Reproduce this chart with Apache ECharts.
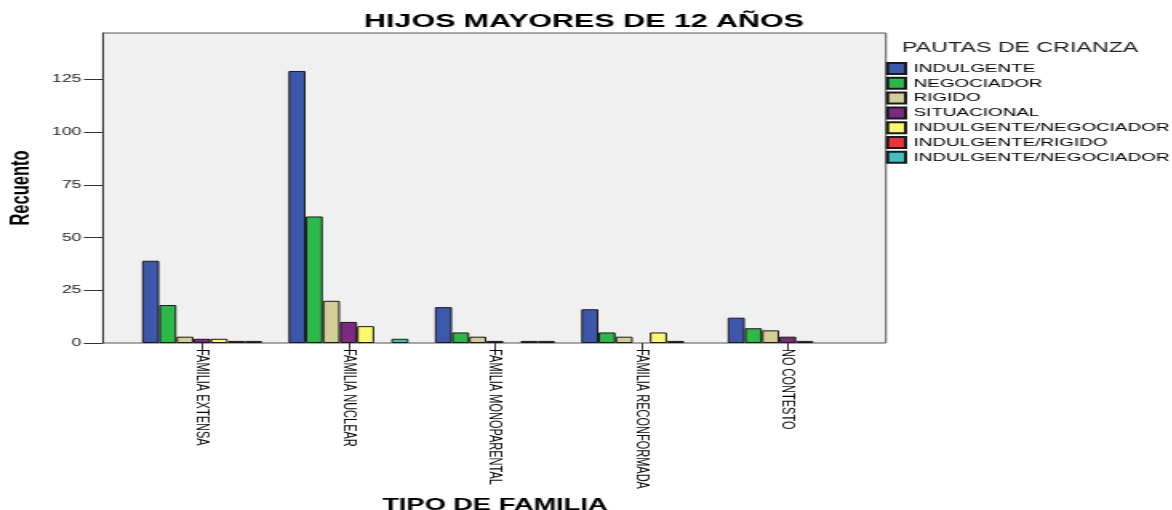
<!DOCTYPE html>
<html>
<head>
<meta charset="utf-8">
<script src="https://cdn.jsdelivr.net/npm/echarts@6/dist/echarts.min.js"></script>
<style>
html, body { margin: 0; padding: 0; background: #fff; overflow: hidden; }
/* el grafico original esta estirado en horizontal, se dibuja angosto y se escala */
#main { width: 732.5px; height: 510px; transform: scaleX(1.6); transform-origin: 0 0; }
</style>
</head>
<body>
<div id="main"></div>
<script>
// datos
const categorias = ['FAMILIA EXTENSA', 'FAMILIA NUCLEAR', 'FAMILIA MONOPARENTAL', 'FAMILIA RECONFORMADA', 'NO CONTESTO'];
const pautas = ['INDULGENTE', 'NEGOCIADOR', 'RIGIDO', 'SITUACIONAL', 'INDULGENTE/NEGOCIADOR', 'INDULGENTE/RIGIDO', 'INDULGENTE/NEGOCIADOR '];
const indulgente = [39, 129, 17, 16, 12];
const negociador = [18, 60, 5, 5, 7];
const rigido = [3, 20, 3, 3, 6];
const situacional = [2, 10, 1, 0, 3];
const indulgenteNegociador = [2, 8, 0, 5, 1];
const indulgenteRigido = [1, 0, 1, 1, 0];
const indulgenteNegociador2 = [1, 2, 1, 0, 0];
const yTicks = [0, 25, 50, 75, 100, 125];

const valores = [indulgente, negociador, rigido, situacional, indulgenteNegociador, indulgenteRigido, indulgenteNegociador2];
const colores = ['#3d58ab', '#2fb84a', '#d3cd96', '#7c2a7f', '#fbf872', '#e9323a', '#47bfc0'];

const S = 1.6; // factor de estiramiento horizontal
const fuente = 'Liberation Sans, Arial, sans-serif';

let myChart = echarts.init(document.getElementById('main'));

let series = [];
for (var i = 0; i < pautas.length; i++) {
  series.push({
    name: pautas[i],
    type: 'bar',
    barGap: '0%',
    barCategoryGap: '18%',
    data: valores[i].map(v => (v === 0 ? null : v)),
    itemStyle: { color: colores[i], borderColor: '#1a1a1a', borderWidth: 1 }
  });
}

let option = {
  animation: false,
  backgroundColor: '#fff',
  title: {
    text: 'HIJOS MAYORES DE 12 AÑOS',
    left: 584 / S,
    top: 12,
    padding: 0,
    textAlign: 'center',
    textStyle: { fontFamily: fuente, fontSize: 19, fontWeight: 'bold', color: '#000' }
  },
  legend: {
    orient: 'vertical',
    left: 886 / S,
    top: 62,
    padding: 0,
    itemWidth: 18 / S,
    itemHeight: 11,
    itemGap: 1.8,
    icon: 'rect',
    selectedMode: false,
    textStyle: { fontFamily: fuente, fontSize: 11.8, color: '#000' },
    data: pautas
  },
  graphic: [
    {
      type: 'rect',
      z: -1,
      shape: { x: 103 / S, y: 33, width: (886 - 103) / S, height: 310 },
      style: { fill: '#f0f0f0', stroke: '#555', lineWidth: 1 }
    },
    {
      type: 'text',
      left: 902 / S,
      top: 40,
      style: { text: 'PAUTAS DE CRIANZA', fontFamily: fuente, fontSize: 14.5, fill: '#222' }
    }
  ],
  grid: {
    left: 128.9 / S,
    right: 732.5 - 860.1 / S,
    top: 33,
    bottom: 167,
    containLabel: false,
    outerBoundsMode: 'none'
  },
  xAxis: {
    type: 'category',
    data: categorias,
    name: 'TIPO DE FAMILIA',
    nameLocation: 'middle',
    nameGap: 152,
    nameTextStyle: { fontFamily: fuente, fontSize: 17, fontWeight: 'bold', color: '#000' },
    axisLine: { show: false },
    axisTick: { show: true, alignWithLabel: true, length: 8, lineStyle: { color: '#333' } },
    axisLabel: { interval: 0, rotate: -90, margin: 6, fontFamily: fuente, fontSize: 11, color: '#000' }
  },
  yAxis: {
    type: 'value',
    min: 0,
    max: 147,
    interval: 25,
    offset: (128.9 - 103) / S,
    name: 'Recuento',
    nameLocation: 'middle',
    nameRotate: 90,
    nameGap: 42,
    nameTextStyle: { fontFamily: fuente, fontSize: 16.5, fontWeight: 'bold', color: '#000' },
    splitLine: { show: false },
    axisLine: { show: true, lineStyle: { color: '#333' } },
    axisTick: { show: true, length: 12, customValues: yTicks, lineStyle: { color: '#333' } },
    axisLabel: { margin: 13.5, customValues: yTicks, fontFamily: fuente, fontSize: 11, color: '#222' }
  },
  series: series
};

myChart.setOption(option);
</script>
</body>
</html>
